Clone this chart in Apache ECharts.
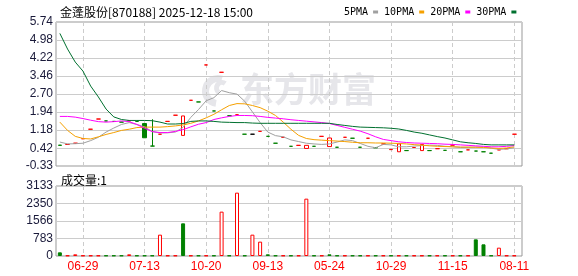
<!DOCTYPE html>
<html><head><meta charset="utf-8">
<script src="https://cdn.jsdelivr.net/npm/echarts@6/dist/echarts.min.js"></script>
<style>html,body{margin:0;padding:0;background:#fff}#c{width:578px;height:276px}</style>
</head><body><div id="c"></div>
<script>
const titleText = '金蓬股份[870188] 2025-12-18 15:00';
const volumeText = '成交量:1';
const legendNames = ['5PMA', '10PMA', '20PMA', '30PMA'];
const tickIndex = [3, 11, 19, 27, 35, 43, 51, 59];
const tickLabels = ['06-29', '07-13', '10-20', '09-13', '05-24', '10-29', '11-15', '08-11'];
const priceTicks = [-0.33, 0.42, 1.18, 1.94, 2.70, 3.46, 4.22, 4.98, 5.74];
const volumeTicks = [0, 783, 1566, 2350, 3133];

const open  = [0.55,0.58,0.63,0.82,1.22,1.65,1.57,1.55,1.52,1.57,1.55,1.46,0.51,1.01,1.55,1.81,0.96,2.44,2.37,3.93,1.99,3.62,1.79,1.83,1.01,1.01,1.13,0.92,0.63,0.88,0.50,0.54,0.41,0.50,0.92,0.49,0.46,0.88,0.84,0.46,0.84,0.44,0.60,0.36,0.27,0.32,0.45,0.32,0.32,0.40,0.33,0.55,0.27,0.35,0.30,0.27,0.21,0.35,0.40,1.01];
const close = [0.54,0.58,0.63,0.82,1.22,1.65,1.57,1.55,1.52,1.57,1.55,0.86,0.51,1.01,1.55,1.81,1.78,2.44,2.37,3.93,1.99,3.62,1.79,1.83,1.01,1.01,1.13,0.92,0.63,0.88,0.50,0.54,0.54,0.50,0.92,0.85,0.46,0.88,0.84,0.46,0.84,0.44,0.60,0.37,0.60,0.32,0.45,0.58,0.32,0.40,0.33,0.55,0.27,0.35,0.30,0.27,0.21,0.35,0.40,1.01];
const low   = [0.54,0.58,0.63,0.82,1.22,1.65,1.57,1.55,1.52,1.57,1.55,0.86,0.51,1.01,1.55,1.81,0.96,2.44,2.37,3.93,1.99,3.62,1.79,1.83,1.01,1.01,1.13,0.92,0.63,0.88,0.50,0.54,0.41,0.50,0.92,0.49,0.46,0.88,0.84,0.46,0.84,0.44,0.60,0.36,0.27,0.32,0.45,0.32,0.32,0.40,0.33,0.55,0.27,0.35,0.30,0.27,0.21,0.35,0.40,1.01];
const high  = [0.55,0.58,0.63,0.82,1.22,1.65,1.57,1.55,1.52,1.57,1.55,1.46,1.64,1.01,1.55,1.81,1.78,2.44,2.37,3.93,1.99,3.62,1.79,1.83,1.01,1.01,1.13,0.92,0.63,0.88,0.50,0.54,0.54,0.50,0.92,0.85,0.46,0.88,0.84,0.46,0.84,0.44,0.60,0.37,0.60,0.32,0.45,0.58,0.32,0.40,0.33,0.55,0.27,0.35,0.30,0.27,0.21,0.35,0.40,1.01];
const volume = [164,1,75,1,1,1,1,1,1,75,1,1,1,955,1,1,1462,1,1,1,1,1985,1,2835,1,955,642,75,1,1,1,1,2566,1,1,75,1,1,1,1,1,1,1,1,1,1,1,1,1,1,1,1,1,1,746,522,1,373,1,1];

const ma5  = [0.68,0.60,0.61,0.63,0.74,0.88,1.10,1.27,1.42,1.50,1.42,1.32,1.12,1.06,1.07,1.10,1.30,1.72,2.05,2.42,2.55,2.85,2.76,2.70,2.40,1.95,1.50,1.10,0.95,0.90,0.77,0.70,0.63,0.60,0.58,0.60,0.68,0.77,0.74,0.62,0.50,0.44,0.58,0.56,0.48,0.48,0.51,0.53,0.55,0.54,0.50,0.48,0.45,0.45,0.47,0.47,0.42,0.37,0.39,0.44];
const ma10 = [1.52,1.17,0.92,0.83,0.81,0.90,1.00,1.08,1.17,1.22,1.29,1.31,1.31,1.31,1.33,1.36,1.40,1.47,1.57,1.70,1.85,2.04,2.22,2.30,2.29,2.22,2.13,1.98,1.80,1.52,1.22,0.96,0.83,0.78,0.76,0.74,0.72,0.70,0.67,0.65,0.65,0.64,0.64,0.63,0.62,0.60,0.57,0.55,0.52,0.50,0.49,0.48,0.47,0.47,0.46,0.45,0.43,0.41,0.43,0.48];
const ma20 = [1.76,1.76,1.73,1.67,1.60,1.54,1.52,1.54,1.57,1.54,1.42,1.26,1.12,1.08,1.08,1.13,1.20,1.32,1.43,1.50,1.63,1.70,1.76,1.80,1.80,1.79,1.76,1.72,1.69,1.66,1.62,1.59,1.56,1.53,1.50,1.46,1.38,1.30,1.22,1.14,1.03,0.90,0.79,0.74,0.69,0.66,0.64,0.63,0.62,0.61,0.59,0.58,0.56,0.54,0.52,0.50,0.48,0.48,0.50,0.53];
const ma30 = [5.26,4.60,4.05,3.67,3.04,2.58,2.07,1.74,1.63,1.59,1.59,1.59,1.58,1.52,1.44,1.44,1.46,1.55,1.57,1.57,1.55,1.52,1.51,1.50,1.50,1.48,1.47,1.47,1.47,1.47,1.47,1.47,1.47,1.47,1.47,1.47,1.42,1.38,1.34,1.31,1.30,1.29,1.28,1.26,1.23,1.17,1.10,1.05,0.98,0.91,0.85,0.77,0.69,0.65,0.62,0.58,0.56,0.56,0.56,0.56];

const RED = '#ff0000', GREEN = '#008000', FLAT = '#000000';
const MA_COLORS = ['#a0a0a0', '#f5a000', '#ff00ff', '#00702f'];
const LABEL_COLOR = '#1a1a3a';
const GRID_LINE = '#cccccc';
const WATERMARK = '#e6e6ea';

const idx = close.map((_, i) => i);
const candleData = idx.map(i => {
  const o = open[i], c = close[i];
  const prev = i > 0 ? close[i - 1] : o;
  let line, fill;
  if (c > o || (c === o && c > prev)) { line = RED; fill = '#ffffff'; }
  else if (c < o || (c === o && c < prev)) { line = GREEN; fill = GREEN; }
  else { line = FLAT; fill = FLAT; }
  return { value: [i, o, c, low[i], high[i]],
    itemStyle: { color: fill, color0: fill, borderColor: line, borderColor0: line, borderColorDoji: line } };
});
const volumeData = idx.map(i => {
  const prev = i > 0 ? close[i - 1] : open[i];
  const up = close[i] >= prev;
  return { value: [i, volume[i]], itemStyle: { color: up ? '#ffffff' : GREEN, borderColor: up ? RED : GREEN, borderWidth: 1 } };
});
const maSeries = [ma5, ma10, ma20, ma30].map((arr, k) => ({
  name: legendNames[k], type: 'line', xAxisIndex: 0, yAxisIndex: 0,
  data: idx.map(i => [i, arr[i]]), showSymbol: false, symbol: 'none',
  lineStyle: { width: 1, color: MA_COLORS[k] }, itemStyle: { color: MA_COLORS[k] }, z: 3
}));

const xBase = (gi, showLabel) => ({
  type: 'value', gridIndex: gi, min: -0.5, max: 60,
  axisLine: { show: false },
  axisTick: { show: false, customValues: tickIndex },
  axisLabel: { show: showLabel, customValues: tickIndex, margin: 5,
    formatter: v => tickLabels[tickIndex.indexOf(Math.round(v))] || '',
    color: RED, fontSize: 12, fontFamily: 'Liberation Sans' },
  splitLine: { show: true, lineStyle: { color: GRID_LINE, type: [4, 3], width: 1 } }
});

const chart = echarts.init(document.getElementById('c'), null, { renderer: 'canvas', width: 578, height: 276 });
chart.setOption({
  animation: false,
  backgroundColor: '#ffffff',
  title: [
    { text: titleText, left: 55, top: 1, textStyle: { fontSize: 12, fontWeight: 'normal', color: '#000', fontFamily: 'Noto Sans CJK SC' } },
    { text: volumeText, left: 56, top: 169, textStyle: { fontSize: 12, fontWeight: 'normal', color: '#000', fontFamily: 'Noto Sans CJK SC' } }
  ],
  legend: {
    data: legendNames, left: 339, top: 2, align: 'right', icon: 'rect', itemWidth: 5, itemHeight: 3, itemGap: 6,
    selectedMode: false, textStyle: { fontSize: 10, color: '#000', fontFamily: 'DejaVu Sans Mono' }
  },
  graphic: [
    { type: 'sector', z: 0, silent: true,
      shape: { cx: 218, cy: 91, r: 16, r0: 9, startAngle: Math.PI * 0.55, endAngle: Math.PI * 1.6 },
      style: { fill: WATERMARK } },
    { type: 'sector', z: 0, silent: true,
      shape: { cx: 222, cy: 88, r: 8, r0: 3, startAngle: Math.PI * 0.7, endAngle: Math.PI * 1.7 },
      style: { fill: WATERMARK } },
    { type: 'text', left: 240, top: 72, z: 0, silent: true,
      style: { text: '东方财富', fill: WATERMARK, font: 'bold 34px "Noto Sans CJK SC"' } }
  ],
  grid: [
    { left: 56, top: 22, width: 466, height: 144, show: true, borderColor: '#999999', borderWidth: 1, backgroundColor: 'transparent' },
    { left: 56, top: 186, width: 466, height: 70, show: true, borderColor: '#999999', borderWidth: 1, backgroundColor: 'transparent' }
  ],
  xAxis: [xBase(0, false), xBase(1, true)],
  yAxis: [
    { type: 'value', gridIndex: 0, min: -0.33, max: 5.74, axisLine: { show: false },
      axisTick: { show: false, customValues: priceTicks },
      axisLabel: { customValues: priceTicks, formatter: v => v.toFixed(2), margin: 3, color: LABEL_COLOR, fontSize: 12, fontFamily: 'Liberation Sans' },
      splitLine: { show: true, lineStyle: { color: GRID_LINE, width: 1 } } },
    { type: 'value', gridIndex: 1, min: 0, max: 3133, axisLine: { show: false },
      axisTick: { show: false, customValues: volumeTicks },
      axisLabel: { customValues: volumeTicks, formatter: v => String(v), margin: 3, color: LABEL_COLOR, fontSize: 12, fontFamily: 'Liberation Sans' },
      splitLine: { show: true, lineStyle: { color: GRID_LINE, width: 1 } } }
  ],
  series: [
    { name: 'K', type: 'candlestick', xAxisIndex: 0, yAxisIndex: 0, data: candleData,
      encode: { x: 0, y: [1, 2, 3, 4] }, barWidth: 4, itemStyle: { borderWidth: 1 }, z: 2 },
    ...maSeries,
    { name: 'VOL', type: 'bar', xAxisIndex: 1, yAxisIndex: 1, data: volumeData, barWidth: 4, barMinHeight: 0.5 }
  ]
});
</script></body></html>
